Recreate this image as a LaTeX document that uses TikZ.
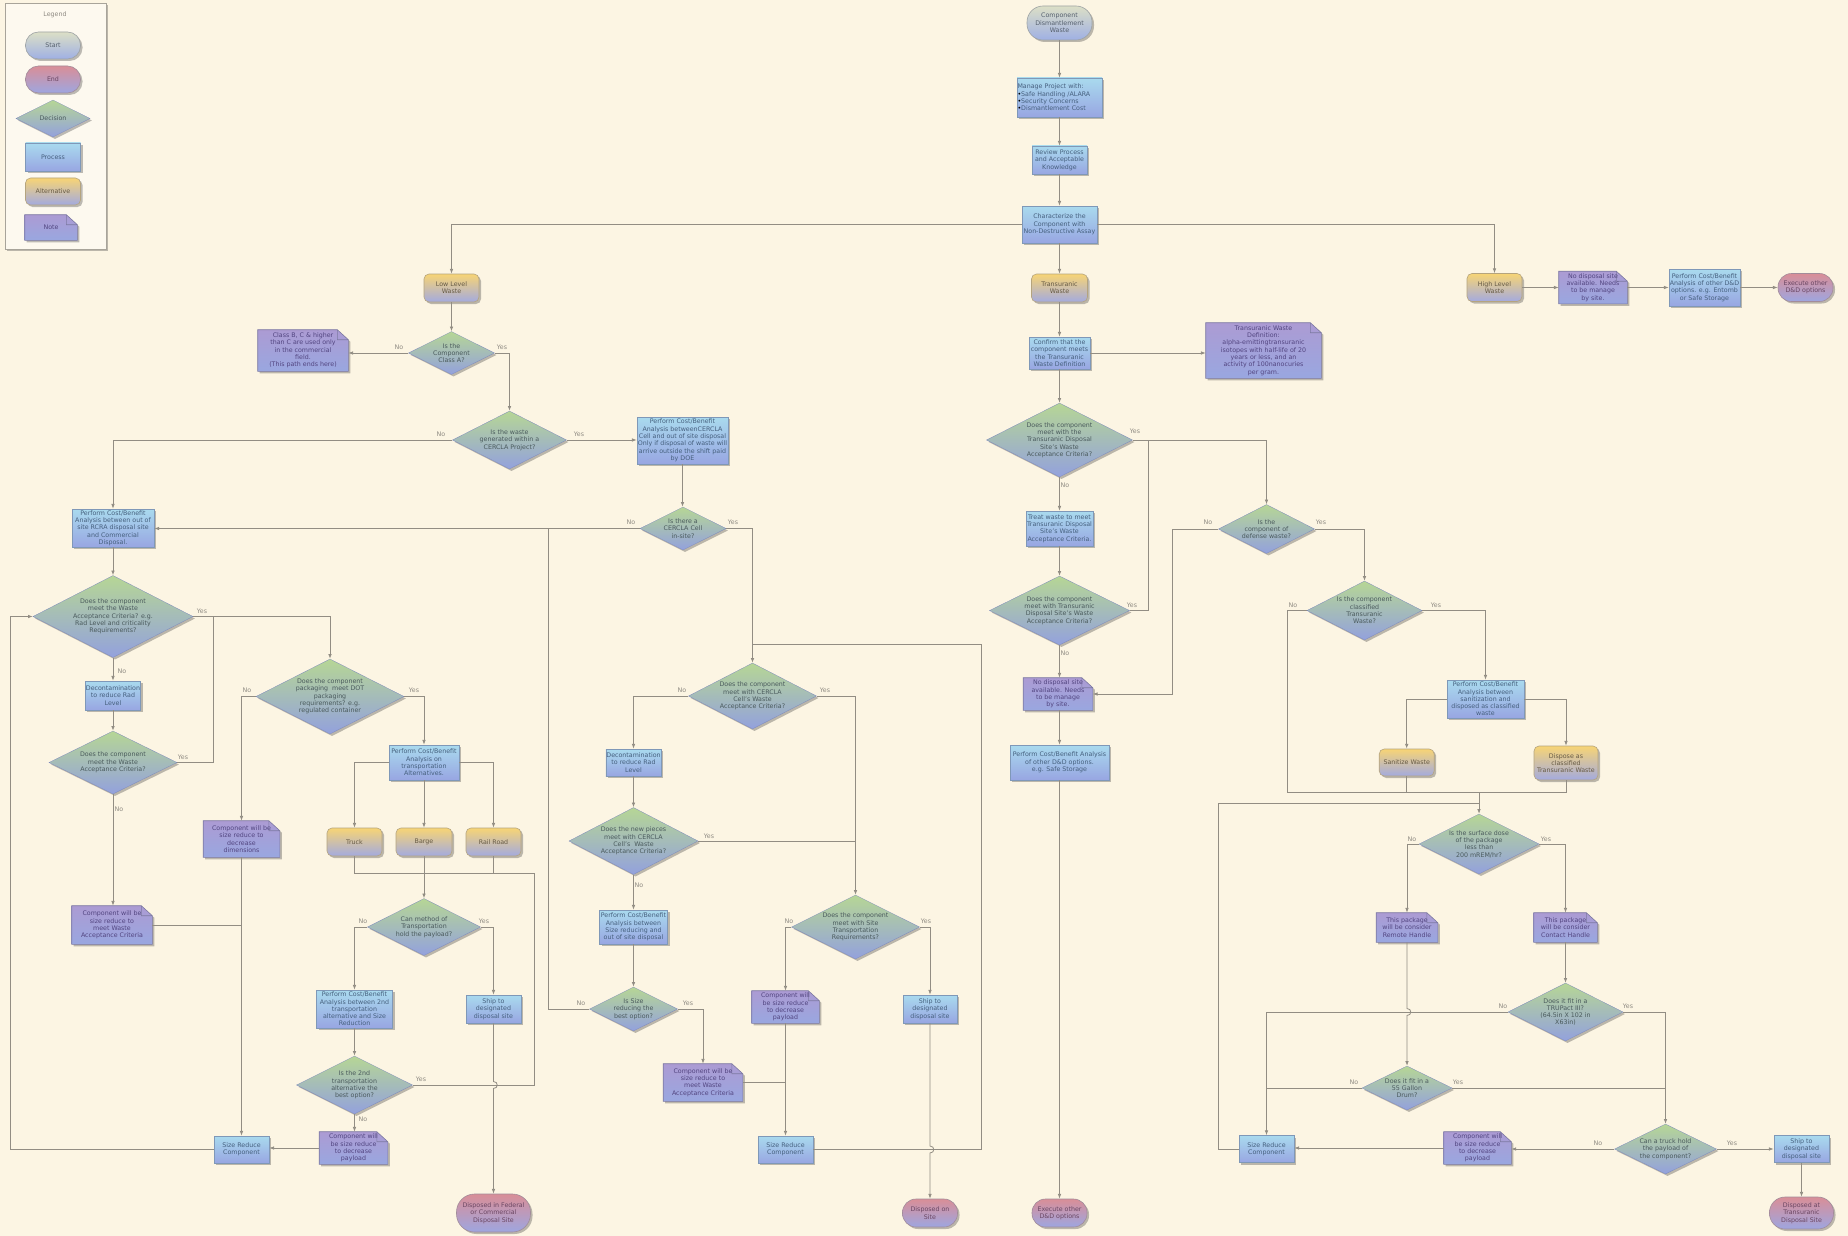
\documentclass[tikz,border=0pt]{standalone}
\usepackage{fontspec}
\setmainfont{DejaVu Sans}
\usetikzlibrary{shapes.geometric,shadows,arrows.meta}

% Note shape: rectangle with a folded top-right corner
\makeatletter
\pgfdeclareshape{dogear}{
  \inheritsavedanchors[from=rectangle]
  \inheritanchorborder[from=rectangle]
  \inheritanchor[from=rectangle]{center}
  \inheritanchor[from=rectangle]{north}
  \inheritanchor[from=rectangle]{north east}
  \inheritanchor[from=rectangle]{east}
  \inheritanchor[from=rectangle]{south east}
  \inheritanchor[from=rectangle]{south}
  \inheritanchor[from=rectangle]{south west}
  \inheritanchor[from=rectangle]{west}
  \inheritanchor[from=rectangle]{north west}
  \backgroundpath{
    \southwest \pgf@xa=\pgf@x \pgf@ya=\pgf@y
    \northeast \pgf@xb=\pgf@x \pgf@yb=\pgf@y
    \pgf@xc=\pgf@xb \advance\pgf@xc by-11pt
    \pgf@yc=\pgf@yb \advance\pgf@yc by-10pt
    \pgfpathmoveto{\pgfpoint{\pgf@xa}{\pgf@ya}}
    \pgfpathlineto{\pgfpoint{\pgf@xa}{\pgf@yb}}
    \pgfpathlineto{\pgfpoint{\pgf@xc}{\pgf@yb}}
    \pgfpathlineto{\pgfpoint{\pgf@xb}{\pgf@yc}}
    \pgfpathlineto{\pgfpoint{\pgf@xb}{\pgf@ya}}
    \pgfpathclose
    \pgfpathmoveto{\pgfpoint{\pgf@xc}{\pgf@yb}}
    \pgfpathlineto{\pgfpoint{\pgf@xc}{\pgf@yc}}
    \pgfpathlineto{\pgfpoint{\pgf@xb}{\pgf@yc}}
    \pgfpathlineto{\pgfpoint{\pgf@xc}{\pgf@yc}}
  }
}
\makeatother

\definecolor{paper}{HTML}{FCF5E3}
\definecolor{legendfill}{HTML}{FDF9EF}
\definecolor{legendline}{HTML}{A8A49A}
\definecolor{linecol}{HTML}{928D83}
\definecolor{proctop}{HTML}{A9DAEE}
\definecolor{procbot}{HTML}{98A6E2}
\definecolor{procline}{HTML}{7F98B8}
\definecolor{proctext}{HTML}{46607E}
\definecolor{dectop}{HTML}{B6D695}
\definecolor{decbot}{HTML}{93A1DD}
\definecolor{dectext}{HTML}{4A5A5C}
\definecolor{starttop}{HTML}{DCDFC6}
\definecolor{startbot}{HTML}{9FB0E4}
\definecolor{startline}{HTML}{9EA3A5}
\definecolor{starttext}{HTML}{56606E}
\definecolor{endtop}{HTML}{D98E97}
\definecolor{endbot}{HTML}{9EA6E0}
\definecolor{endline}{HTML}{A28C9A}
\definecolor{endtext}{HTML}{6A4662}
\definecolor{alttop}{HTML}{F7D475}
\definecolor{altbot}{HTML}{A3AADF}
\definecolor{altline}{HTML}{B5A47E}
\definecolor{alttext}{HTML}{665A44}
\definecolor{notetop}{HTML}{AC9BD3}
\definecolor{notebot}{HTML}{99A7E0}
\definecolor{noteline}{HTML}{7D7AA2}
\definecolor{notetext}{HTML}{524580}
\definecolor{lbltext}{HTML}{8E8A82}

\newcommand{\mybullet}{{\color{black}\textbullet}}

\tikzset{
  every node/.style={font=\fontsize{6.3}{7.3}\selectfont, align=center, inner sep=0.5pt},
  sz/.style 2 args={minimum width=#1pt, minimum height=#2pt},
  shadowed/.style={drop shadow={shadow xshift=2pt, shadow yshift=-2pt, opacity=0.32, fill=black!80}},
  procbox/.style={rectangle, shadowed, top color=proctop, bottom color=procbot, draw=procline, line width=0.6pt, text=proctext},
  decbox/.style={diamond, aspect=2, inner sep=0pt, shadowed, top color=dectop, bottom color=decbot, draw=decbot!85!black, line width=0.3pt, text=dectext},
  startbox/.style={rectangle, shadowed, top color=starttop, bottom color=startbot, draw=startline, line width=0.6pt, text=starttext},
  endbox/.style={rectangle, shadowed, top color=endtop, bottom color=endbot, draw=endline, line width=0.6pt, text=endtext},
  altbox/.style={rectangle, rounded corners=5pt, shadowed, top color=alttop, bottom color=altbot, draw=altline, line width=0.6pt, text=alttext},
  notebox/.style={shape=dogear, shadowed, top color=notetop, bottom color=notebot, draw=noteline, line width=0.6pt, text=notetext},
  legendbox/.style={rectangle, draw=legendline, fill=legendfill, line width=0.6pt, shadowed},
  lbl/.style={text=lbltext},
  conn/.style={draw=linecol, line width=0.8pt},
  arr/.style={-{Latex[length=4.8pt,width=3.6pt]}},
}

\begin{document}
\begin{tikzpicture}[x=1pt,y=-1pt]
\fill[paper] (0,0) rectangle (1848,1236);
\useasboundingbox (0,0) rectangle (1848,1236);

% ---------- legend ----------
\node[legendbox, sz={101}{246}] (lgbox) at (55.5,126) {};
\node[lbl] (lgtitle) at (55,14.5) {Legend};
\node[startbox, sz={55}{27}, rounded corners=13pt] (lgstart) at (53,45.5) {Start};
\node[endbox, sz={55}{27}, rounded corners=13pt] (lgend) at (53,79.5) {End};
\node[decbox, sz={74}{37}] (lgdec) at (53,118.5) {Decision};
\node[procbox, sz={55}{28}] (lgproc) at (53,157) {Process};
\node[altbox, sz={55}{27}] (lgalt) at (53,191.5) {Alternative};
\node[notebox, sz={52}{25}] (lgnote) at (51,227.5) {Note};

% ---------- main trunk ----------
\node[startbox, sz={65}{34}, rounded corners=16pt] (start) at (1059.5,23) {Component\\Dismantlement\\Waste};
\node[procbox, sz={85}{39}, text width=84pt, align=left] (manage) at (1059.5,97.5) {Manage Project with:\\\mybullet Safe Handling /ALARA\\\mybullet Security Concerns\\\mybullet Dismantlement Cost};
\node[procbox, sz={55}{28}] (review) at (1059.5,160) {Review Process\\and Acceptable\\Knowledge};
\node[procbox, sz={75}{37}] (charac) at (1059.5,224.5) {Characterize the\\Component with\\Non-Destructive Assay};
\node[altbox, sz={55}{28}] (llw) at (451.5,288) {Low Level\\Waste};
\node[altbox, sz={56}{28}] (tru) at (1059.5,288) {Transuranic\\Waste};
\node[altbox, sz={55}{28}] (hlw) at (1494.5,287.5) {High Level\\Waste};
\node[notebox, sz={68}{32}] (hlwnote) at (1593,287.5) {No disposal site\\available. Needs\\to be manage\\by site.};
\node[procbox, sz={71}{37}] (hlwproc) at (1704.5,287.5) {Perform Cost/Benefit\\Analysis of other D\&D\\options. e.g. Entomb\\or Safe Storage};
\node[endbox, sz={55}{28}, rounded corners=13.5pt] (hlwend) at (1805.5,287.5) {Execute other\\D\&D options};
\node[procbox, sz={61}{32}] (confirm) at (1059.5,353) {Confirm that the\\component meets\\the Transuranic\\Waste Definition};
\node[notebox, sz={115}{55}] (trudef) at (1263.5,350.5) {Transuranic Waste\\Definition:\\alpha-emittingtransuranic\\isotopes with half-life of 20\\years or less, and an\\activity of 100nanocuries\\per gram.};

% ---------- low level waste branch ----------
\node[decbox, sz={86}{43}] (classA) at (451.5,353) {Is the\\Component\\Class A?};
\node[notebox, sz={90}{41}] (classnote) at (303,350.5) {Class B, C \& higher\\than C are used only\\in the commercial\\field.\\(This path ends here)};
\node[decbox, sz={114}{58}] (cproj) at (509.5,440) {Is the waste\\generated within a\\CERCLA Project?};
\node[procbox, sz={91}{47}] (cproc) at (682.5,440.5) {Perform Cost/Benefit\\Analysis betweenCERCLA\\Cell and out of site disposal\\Only if disposal of waste will\\arrive outside the shift paid\\by DOE};
\node[procbox, sz={82}{38}] (rcra) at (113,528) {Perform Cost/Benefit\\Analysis between out of\\site RCRA disposal site\\and Commercial\\Disposal.};
\node[decbox, sz={86}{43}] (ccell) at (683,528.5) {Is there a\\CERCLA Cell\\in-site?};

\node[decbox, sz={160}{82}] (wac1) at (113,616.5) {Does the component\\meet the Waste\\Acceptance Criteria? e.g.\\Rad Level and criticality\\Requirements?};
\node[procbox, sz={55}{29}] (decon1) at (113,695.5) {Decontamination\\to reduce Rad\\Level};
\node[decbox, sz={128}{63}] (wac2) at (113,762.5) {Does the component\\meet the Waste\\Acceptance Criteria?};
\node[notebox, sz={80}{38}] (noteL) at (112,925) {Component will be\\size reduce to\\meet Waste\\Acceptance Criteria};
\node[decbox, sz={148}{75}] (dot) at (330,696.5) {Does the component\\packaging\ \ meet DOT\\packaging\\requirements? e.g.\\regulated container};
\node[notebox, sz={76}{36}] (notedim) at (241.5,839) {Component will be\\size reduce to\\decrease\\dimensions};
\node[procbox, sz={70}{35}] (tproc) at (424,762.5) {Perform Cost/Benefit\\Analysis on\\transportation\\Alternatives.};
\node[altbox, sz={55}{28}] (truck) at (354.5,842) {Truck};
\node[altbox, sz={56}{28}] (barge) at (424,842) {Barge};
\node[altbox, sz={55}{28}] (rail) at (493.5,842) {Rail Road};
\node[decbox, sz={113}{57}] (canhold) at (424,927) {Can method of\\Transportation\\hold the payload?};
\node[procbox, sz={76}{38}] (proc2) at (354.5,1009) {Perform Cost/Benefit\\Analysis between 2nd\\transportation\\alternative and Size\\Reduction};
\node[decbox, sz={116}{58}] (alt2) at (354.5,1085) {Is the 2nd\\transportation\\alternative the\\best option?};
\node[notebox, sz={68}{32}] (notepl) at (353.5,1148) {Component will\\be size reduce\\to decrease\\payload};
\node[procbox, sz={55}{27}] (srcL) at (241.5,1149.5) {Size Reduce\\Component};
\node[procbox, sz={55}{28}] (shipL) at (493.5,1009) {Ship to\\designated\\disposal site};
\node[endbox, sz={74}{38}, rounded corners=18pt] (endF) at (493.5,1213) {Disposed in Federal\\or Commercial\\Disposal Site};

\node[decbox, sz={128}{66}] (cwac) at (752.5,696) {Does the component\\meet with CERCLA\\Cell's Waste\\Acceptance Criteria?};
\node[procbox, sz={55}{27}] (decon2) at (633.5,762.5) {Decontamination\\to reduce Rad\\Level};
\node[decbox, sz={129}{67}] (newp) at (633.5,841) {Does the new pieces\\meet with CERCLA\\Cell's\ \ Waste\\Acceptance Criteria?};
\node[procbox, sz={68}{34}] (sproc) at (633.5,927) {Perform Cost/Benefit\\Analysis between\\Size reducing and\\out of site disposal};
\node[decbox, sz={88}{44}] (issize) at (633.5,1009) {Is Size\\reducing the\\best option?};
\node[notebox, sz={79}{37}] (noteM) at (703,1082.5) {Component will be\\size reduce to\\meet Waste\\Acceptance Criteria};
\node[decbox, sz={128}{64}] (site) at (855.5,927) {Does the component\\meet with Site\\Transportation\\Requirements?};
\node[notebox, sz={67}{32}] (notepm) at (785.5,1007) {Component will\\be size reduce\\to decrease\\payload};
\node[procbox, sz={55}{27}] (srcM) at (785.5,1149.5) {Size Reduce\\Component};
\node[procbox, sz={54}{28}] (shipM) at (930,1009) {Ship to\\designated\\disposal site};
\node[endbox, sz={55}{28}, rounded corners=13.5pt] (endS) at (930,1213) {Disposed on\\Site};

% ---------- transuranic branch ----------
\node[decbox, sz={146}{74}] (twac1) at (1059.5,440) {Does the component\\meet with the\\Transuranic Disposal\\Site's Waste\\Acceptance Criteria?};
\node[procbox, sz={67}{35}] (treat) at (1059.5,528.5) {Treat waste to meet\\Transuranic Disposal\\Site's Waste\\Acceptance Criteria.};
\node[decbox, sz={140}{69}] (twac2) at (1059.5,610.5) {Does the component\\meet with Transuranic\\Disposal Site's Waste\\Acceptance Criteria?};
\node[notebox, sz={69}{32}] (notec) at (1058,694) {No disposal site\\available. Needs\\to be manage\\by site.};
\node[procbox, sz={99}{35}] (dproc) at (1059.5,762.5) {Perform Cost/Benefit Analysis\\of other D\&D options.\\e.g. Safe Storage};
\node[endbox, sz={55}{28}, rounded corners=13.5pt] (endX) at (1059.5,1213) {Execute other\\D\&D options};
\node[decbox, sz={96}{49}] (defense) at (1266.5,529) {Is the\\component of\\defense waste?};
\node[decbox, sz={115}{59}] (classif) at (1364.5,610.5) {Is the component\\classified\\Transuranic\\Waste?};
\node[procbox, sz={77}{38}] (sproc2) at (1485.5,699) {Perform Cost/Benefit\\Analysis between\\sanitization and\\disposed as classified\\waste};
\node[altbox, sz={55}{27}] (sanit) at (1406.7,762.5) {Sanitize Waste};
\node[altbox, sz={64}{34}] (dispc) at (1566,763) {Dispose as\\classified\\Transuranic Waste};
\node[decbox, sz={120}{60}] (dose) at (1479,844) {Is the surface dose\\of the package\\less than\\200 mREM/hr?};
\node[notebox, sz={61}{29}] (remote) at (1407,927.5) {This package\\will be consider\\Remote Handle};
\node[notebox, sz={63}{29}] (contact) at (1565.5,927.5) {This package\\will be consider\\Contact Handle};
\node[decbox, sz={115}{58}] (trupact) at (1565.5,1012) {Does it fit in a\\TRUPact III?\\(64.5in X 102 in\\X63in)};
\node[decbox, sz={90}{44}] (gal) at (1407,1088) {Does it fit in a\\55 Gallon\\Drum?};
\node[decbox, sz={102}{50}] (truckq) at (1665.5,1149) {Can a truck hold\\the payload of\\the component?};
\node[procbox, sz={55}{27}] (shipR) at (1801.5,1149) {Ship to\\designated\\disposal site};
\node[endbox, sz={64}{32}, rounded corners=15.5pt] (endR) at (1801.5,1213) {Disposed at\\Transuranic\\Disposal Site};
\node[notebox, sz={67}{32}] (noteR) at (1477.5,1148) {Component will\\be size reduce\\to decrease\\payload};
\node[procbox, sz={55}{27}] (srcR) at (1266.5,1149) {Size Reduce\\Component};

% junction points
\coordinate (jtrans) at (424,873);
\coordinate (jdose) at (1479,792);

% ---------- connectors: trunk ----------
\draw[conn,arr] (start) -- (manage);
\draw[conn,arr] (manage) -- (review);
\draw[conn,arr] (review) -- (charac);
\draw[conn,arr] (charac) -- (tru);
\draw[conn,arr] (tru) -- (confirm);
\draw[conn,arr] (confirm) -- (twac1);
\draw[conn,arr] (charac.west) -| (llw.north);
\draw[conn,arr] (charac.east) -| (hlw.north);
\draw[conn,arr] (hlw) -- (hlwnote);
\draw[conn,arr] (hlwnote) -- (hlwproc);
\draw[conn,arr] (hlwproc) -- (hlwend);
\draw[conn,arr] (confirm.east) -- (confirm.east -| trudef.west);

% ---------- connectors: low level waste ----------
\draw[conn,arr] (llw) -- (classA);
\draw[conn,arr] (classA.west) -- (classA.west -| classnote.east);
\draw[conn,arr] (classA.east) -| (cproj.north);
\draw[conn,arr] (cproj.east) -- (cproj.east -| cproc.west);
\draw[conn,arr] (cproj.west) -| (rcra.north);
\draw[conn,arr] (cproc.south) -- (cproc.south |- ccell.north);
\draw[conn,arr] (ccell.west) -- (ccell.west -| rcra.east);
\draw[conn] (issize.west) -| (548,528.5);
\draw[conn,arr] (ccell.east) -| (cwac.north);
\draw[conn] (srcM.east) -| (981,644) -- (752.5,644);

\draw[conn,arr] (rcra) -- (wac1);
\draw[conn,arr] (wac1) -- (decon1);
\draw[conn,arr] (decon1) -- (wac2);
\draw[conn,arr] (wac2.south) -- (wac2.south |- noteL.north);
\draw[conn,arr] (wac1.east) -| (dot.north);
\draw[conn] (wac2.east) -| (213.7,616.5);
\draw[conn,arr] (dot.west) -| (notedim.north);
\draw[conn,arr] (dot.east) -| (tproc.north);
\draw[conn,arr] (notedim.south) -- (notedim.south |- srcL.north);
\draw[conn] (noteL.east) -- (noteL.east -| srcL.north);
\draw[conn,arr] (srcL.west) -| (10,616.5) -- (wac1.west);
\draw[conn,arr] (tproc.west) -| (truck.north);
\draw[conn,arr] (tproc) -- (barge);
\draw[conn,arr] (tproc.east) -| (rail.north);
\draw[conn] (truck.south) |- (jtrans);
\draw[conn] (rail.south) |- (jtrans);
\draw[conn,arr] (barge.south) -- (canhold.north);
\draw[conn,arr] (canhold.west) -| (proc2.north);
\draw[conn,arr] (canhold.east) -| (shipL.north);
\draw[conn,arr] (proc2) -- (alt2);
\draw[conn,arr] (alt2.south) -- (alt2.south |- notepl.north);
\draw[conn,arr] (notepl.west) -- (notepl.west -| srcL.east);
\draw[conn] (alt2.east) -| (534.7,873) -- (493.5,873);
\draw[conn,arr] (shipL.south) -- (493.5,1081.5) .. controls (498.5,1081.5) and (498.5,1088.5) .. (493.5,1088.5) -- (endF.north);

\draw[conn,arr] (cwac.west) -| (decon2.north);
\draw[conn,arr] (decon2) -- (newp);
\draw[conn,arr] (newp) -- (sproc);
\draw[conn,arr] (sproc) -- (issize);
\draw[conn] (newp.east) -- (newp.east -| site.north);
\draw[conn,arr] (cwac.east) -| (site.north);
\draw[conn,arr] (issize.east) -| (noteM.north);
\draw[conn] (noteM.east) -- (noteM.east -| notepm.south);
\draw[conn,arr] (notepm) -- (srcM);
\draw[conn,arr] (site.west) -| (notepm.north);
\draw[conn,arr] (site.east) -| (shipM.north);
\draw[conn,arr] (shipM.south) -- (930,1146) .. controls (935,1146) and (935,1153) .. (930,1153) -- (endS.north);

% ---------- connectors: transuranic ----------
\draw[conn,arr] (twac1) -- (treat);
\draw[conn,arr] (treat) -- (twac2);
\draw[conn,arr] (twac2.south) -- (twac2.south |- notec.north);
\draw[conn,arr] (dproc.north |- notec.south) -- (dproc.north);
\draw[conn,arr] (dproc) -- (endX);
\draw[conn,arr] (twac1.east) -| (defense.north);
\draw[conn] (twac2.east) -| (1148,440);
\draw[conn,arr] (defense.west) -| (1172,694) -- (notec.east);
\draw[conn,arr] (defense.east) -| (classif.north);
\draw[conn,arr] (classif.east) -| (sproc2.north);
\draw[conn,arr] (sproc2.west) -| (sanit.north);
\draw[conn,arr] (sproc2.east) -| (dispc.north);
\draw[conn] (sanit.south) |- (jdose);
\draw[conn] (dispc.south) |- (jdose);
\draw[conn,arr] (jdose) -- (dose.north);
\draw[conn] (classif.west) -| (1287.3,792) -- (jdose);
\draw[conn] (srcR.west) -| (1218,803) -- (1479,803);
\draw[conn,arr] (dose.west) -| (remote.north);
\draw[conn,arr] (dose.east) -| (contact.north);
\draw[conn,arr] (remote.south) -- (1407,1008.5) .. controls (1412,1008.5) and (1412,1015.5) .. (1407,1015.5) -- (gal.north);
\draw[conn,arr] (contact) -- (trupact);
\draw[conn,arr] (trupact.west) -| (srcR.north);
\draw[conn] (gal.west) -- (gal.west -| srcR.north);
\draw[conn,arr] (trupact.east) -| (truckq.north);
\draw[conn] (gal.east) -- (gal.east -| truckq.north);
\draw[conn,arr] (truckq.east) -- (truckq.east -| shipR.west);
\draw[conn,arr] (truckq.west) -- (truckq.west -| noteR.east);
\draw[conn,arr] (noteR.west) -- (noteR.west -| srcR.east);
\draw[conn,arr] (shipR) -- (endR);

% ---------- branch labels ----------
\node[lbl] (l1) at (399,347) {No};
\node[lbl] (l2) at (502,347) {Yes};
\node[lbl] (l3) at (441,434) {No};
\node[lbl] (l4) at (579,434) {Yes};
\node[lbl] (l5) at (631,522) {No};
\node[lbl] (l6) at (733,522) {Yes};
\node[lbl] (l7) at (202,611) {Yes};
\node[lbl] (l8) at (122,671) {No};
\node[lbl] (l9) at (183,757) {Yes};
\node[lbl] (l10) at (119,809) {No};
\node[lbl] (l11) at (247,690) {No};
\node[lbl] (l12) at (414,690) {Yes};
\node[lbl] (l13) at (363,921) {No};
\node[lbl] (l14) at (484,921) {Yes};
\node[lbl] (l15) at (421,1079) {Yes};
\node[lbl] (l16) at (363,1119) {No};
\node[lbl] (l17) at (682,690) {No};
\node[lbl] (l18) at (825,690) {Yes};
\node[lbl] (l19) at (709,836) {Yes};
\node[lbl] (l20) at (639,885) {No};
\node[lbl] (l21) at (581,1003) {No};
\node[lbl] (l22) at (688,1003) {Yes};
\node[lbl] (l23) at (789,921) {No};
\node[lbl] (l24) at (926,921) {Yes};
\node[lbl] (l25) at (1135,431) {Yes};
\node[lbl] (l26) at (1065,485) {No};
\node[lbl] (l27) at (1132,605) {Yes};
\node[lbl] (l28) at (1065,653) {No};
\node[lbl] (l29) at (1208,522) {No};
\node[lbl] (l30) at (1321,522) {Yes};
\node[lbl] (l31) at (1293,605) {No};
\node[lbl] (l32) at (1436,605) {Yes};
\node[lbl] (l33) at (1412,839) {No};
\node[lbl] (l34) at (1546,839) {Yes};
\node[lbl] (l35) at (1503,1006) {No};
\node[lbl] (l36) at (1628,1006) {Yes};
\node[lbl] (l37) at (1354,1082) {No};
\node[lbl] (l38) at (1458,1082) {Yes};
\node[lbl] (l39) at (1598,1143) {No};
\node[lbl] (l40) at (1732,1143) {Yes};
\end{tikzpicture}
\end{document}
